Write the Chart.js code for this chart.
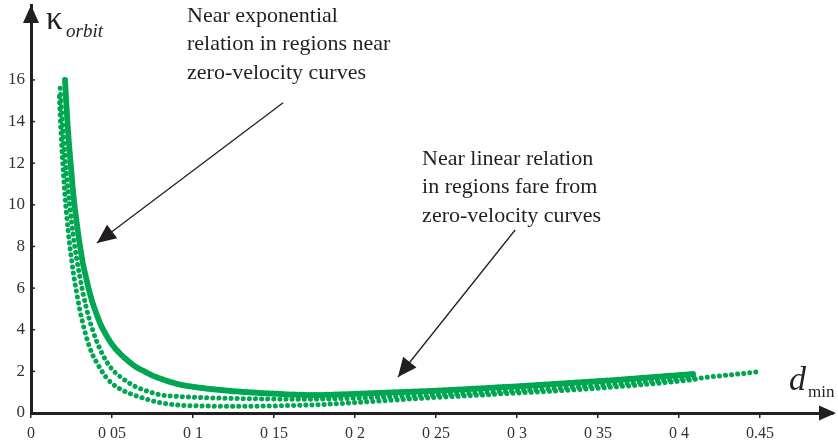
<!DOCTYPE html>
<html>
<head>
<meta charset="utf-8">
<script src="https://cdn.jsdelivr.net/npm/chart.js@4/dist/chart.umd.min.js"></script>
<style>
  body { margin: 0; background: #fff; }
</style>
</head>
<body>
<canvas id="orbitChart" width="838" height="444"></canvas>
<script>
// tick values and their printed labels
const xTickValues = [0, 0.05, 0.1, 0.15, 0.2, 0.25, 0.3, 0.35, 0.4, 0.45];
const xTickLabels = ['0', '0 05', '0 1', '0 15', '0 2', '0 25', '0 3', '0 35', '0 4', '0.45'];
const yTickValues = [0, 2, 4, 6, 8, 10, 12, 14, 16];
const yTickLabels = ['0', '2', '4', '6', '8', '10', '12', '14', '16'];

// upper band
const bandX = [0.021, 0.022, 0.023, 0.024, 0.025, 0.026, 0.027, 0.028, 0.029, 0.030, 0.032, 0.034, 0.036, 0.038, 0.040, 0.043, 0.046, 0.050, 0.055, 0.060, 0.065, 0.070, 0.075, 0.080, 0.090, 0.100, 0.110, 0.120, 0.130, 0.140, 0.150, 0.160, 0.170, 0.180, 0.190, 0.200, 0.210, 0.220, 0.230, 0.240, 0.250, 0.260, 0.270, 0.280, 0.290, 0.300, 0.310, 0.320, 0.330, 0.340, 0.350, 0.360, 0.370, 0.380, 0.390, 0.400, 0.410];
const bandY = [16.0, 14.6, 13.4, 12.4, 11.5, 10.6, 9.9, 9.3, 8.7, 8.15, 7.2, 6.5, 5.85, 5.3, 4.85, 4.25, 3.8, 3.3, 2.85, 2.5, 2.2, 2.0, 1.8, 1.65, 1.4, 1.26, 1.16, 1.08, 1.02, 0.97, 0.93, 0.89, 0.87, 0.87, 0.89, 0.92, 0.95, 0.98, 1.01, 1.04, 1.07, 1.11, 1.15, 1.19, 1.24, 1.28, 1.33, 1.38, 1.43, 1.48, 1.53, 1.58, 1.64, 1.70, 1.76, 1.82, 1.88];

// middle dotted curve
const midX = [0.018, 0.019, 0.020, 0.021, 0.022, 0.023, 0.024, 0.025, 0.026, 0.027, 0.028, 0.030, 0.032, 0.034, 0.036, 0.038, 0.040, 0.043, 0.046, 0.050, 0.055, 0.060, 0.065, 0.070, 0.075, 0.080, 0.090, 0.100, 0.110, 0.120, 0.130, 0.140, 0.150, 0.160, 0.170, 0.180, 0.190, 0.200, 0.210, 0.220, 0.230, 0.240, 0.250, 0.260, 0.270, 0.280, 0.290, 0.300, 0.310, 0.320, 0.330, 0.340, 0.350, 0.360, 0.370, 0.380, 0.390, 0.400, 0.410];
const midY = [15.6, 14.4, 13.3, 12.3, 11.4, 10.6, 9.9, 9.2, 8.6, 8.0, 7.5, 6.6, 5.8, 5.1, 4.5, 4.0, 3.55, 3.0, 2.55, 2.1, 1.75, 1.47, 1.25, 1.1, 0.97, 0.87, 0.8, 0.76, 0.73, 0.71, 0.69, 0.68, 0.67, 0.66, 0.66, 0.67, 0.69, 0.71, 0.74, 0.77, 0.8, 0.83, 0.86, 0.9, 0.94, 0.98, 1.02, 1.06, 1.11, 1.16, 1.21, 1.26, 1.31, 1.37, 1.43, 1.49, 1.56, 1.63, 1.72];

// lowest dotted curve (runs on to 0.45)
const lowX = [0.0175, 0.018, 0.019, 0.020, 0.021, 0.022, 0.023, 0.024, 0.025, 0.026, 0.027, 0.028, 0.030, 0.032, 0.034, 0.036, 0.038, 0.040, 0.043, 0.046, 0.050, 0.055, 0.060, 0.065, 0.070, 0.075, 0.080, 0.085, 0.090, 0.095, 0.100, 0.110, 0.120, 0.130, 0.140, 0.150, 0.160, 0.170, 0.180, 0.190, 0.200, 0.210, 0.220, 0.230, 0.240, 0.250, 0.260, 0.270, 0.280, 0.290, 0.300, 0.310, 0.320, 0.330, 0.340, 0.350, 0.360, 0.370, 0.380, 0.390, 0.400, 0.410, 0.415, 0.420, 0.425, 0.430, 0.435, 0.440, 0.445, 0.450];
const lowY = [15.2, 14.3, 12.8, 11.5, 10.4, 9.5, 8.7, 8.0, 7.4, 6.8, 6.3, 5.85, 5.0, 4.3, 3.7, 3.2, 2.8, 2.5, 2.1, 1.75, 1.42, 1.15, 0.97, 0.82, 0.7, 0.58, 0.49, 0.43, 0.39, 0.36, 0.35, 0.33, 0.32, 0.32, 0.33, 0.34, 0.36, 0.38, 0.41, 0.45, 0.5, 0.55, 0.6, 0.65, 0.7, 0.75, 0.79, 0.83, 0.87, 0.92, 0.96, 1.0, 1.04, 1.09, 1.14, 1.19, 1.25, 1.31, 1.38, 1.45, 1.53, 1.62, 1.7, 1.74, 1.78, 1.82, 1.86, 1.9, 1.95, 2.0];

const green = '#00a651';
const ink = '#231f20';

// annotations: text lines and arrows in data units
const note1 = ['Near exponential', 'relation in regions near', 'zero-velocity curves'];
const note2 = ['Near linear relation', 'in regions fare from', 'zero-velocity curves'];
const note1At = [0.0963, 18.79];
const note2At = [0.2414, 11.92];
const arrow1 = [[0.1556, 14.9], [0.0407, 8.17]];
const arrow2 = [[0.2988, 8.79], [0.2265, 1.73]];

function toPoints(xs, ys) {
  return xs.map((x, i) => ({ x: x, y: ys[i] }));
}

function arrowHead(ctx, x0, y0, x1, y1, len, half) {
  const a = Math.atan2(y1 - y0, x1 - x0);
  ctx.beginPath();
  ctx.moveTo(x1, y1);
  ctx.lineTo(x1 - len * Math.cos(a) + half * Math.sin(a), y1 - len * Math.sin(a) - half * Math.cos(a));
  ctx.lineTo(x1 - len * Math.cos(a) - half * Math.sin(a), y1 - len * Math.sin(a) + half * Math.cos(a));
  ctx.closePath();
  ctx.fill();
}

// axis arrows, titles, y ticks and the two notes
const extras = {
  id: 'extras',
  afterDraw(chart) {
    const ctx = chart.ctx;
    const xs = chart.scales.x, ys = chart.scales.y;
    const area = chart.chartArea;
    ctx.save();
    ctx.fillStyle = ink;
    ctx.strokeStyle = ink;

    // axis arrowheads
    arrowHead(ctx, area.left, area.bottom, area.left, area.top, 18, 8);
    arrowHead(ctx, area.left, area.bottom, area.right + 3, area.bottom, 17, 7.5);

    // small y ticks inside the axis
    ctx.lineWidth = 1.5;
    yTickValues.forEach(v => {
      const py = ys.getPixelForValue(v);
      ctx.beginPath();
      ctx.moveTo(area.left, py);
      ctx.lineTo(area.left + 4, py);
      ctx.stroke();
    });

    // axis titles
    ctx.textBaseline = 'alphabetic';
    ctx.textAlign = 'left';
    ctx.font = '33px "Liberation Serif"';
    ctx.fillText('\u03ba', area.left + 15, 29);
    ctx.font = 'italic 19px "Liberation Serif"';
    ctx.fillText('orbit', area.left + 35, 37);
    ctx.font = 'italic 34px "Liberation Serif"';
    ctx.fillText('d', 789, 390);
    ctx.font = '17px "Liberation Serif"';
    ctx.fillText('min', 808, 397);

    // notes
    ctx.font = '22px "Liberation Serif"';
    [[note1, note1At], [note2, note2At]].forEach(([lines, at]) => {
      const px = xs.getPixelForValue(at[0]);
      const py = ys.getPixelForValue(at[1]);
      lines.forEach((t, i) => ctx.fillText(t, px, py + i * 28.5));
    });

    // note arrows
    ctx.lineWidth = 1.3;
    [arrow1, arrow2].forEach(([from, to]) => {
      const x0 = xs.getPixelForValue(from[0]), y0 = ys.getPixelForValue(from[1]);
      const x1 = xs.getPixelForValue(to[0]), y1 = ys.getPixelForValue(to[1]);
      ctx.beginPath();
      ctx.moveTo(x0, y0);
      ctx.lineTo(x1, y1);
      ctx.stroke();
      arrowHead(ctx, x0, y0, x1, y1, 19, 8.5);
    });
    ctx.restore();
  }
};

const dotted = (width, gap) => ({
  borderColor: green,
  backgroundColor: green,
  borderWidth: width,
  borderDash: [0.1, gap],
  borderCapStyle: 'round',
  pointRadius: 0,
  cubicInterpolationMode: 'monotone',
  fill: false
});

new Chart(document.getElementById('orbitChart'), {
  type: 'line',
  data: {
    datasets: [
      Object.assign({ label: 'band', data: toPoints(bandX, bandY) }, dotted(6, 2.5)),
      Object.assign({ label: 'middle', data: toPoints(midX, midY) }, dotted(5, 6)),
      Object.assign({ label: 'low', data: toPoints(lowX, lowY) }, dotted(5, 6))
    ]
  },
  options: {
    responsive: false,
    animation: false,
    layout: { padding: { left: 0, top: 5, right: 5, bottom: 0 } },
    plugins: { legend: { display: false }, tooltip: { enabled: false } },
    scales: {
      x: {
        type: 'linear',
        min: 0,
        max: 0.495,
        afterFit: s => { s.height = 31; },
        afterBuildTicks: s => { s.ticks = xTickValues.map(v => ({ value: v })); },
        ticks: {
          autoSkip: false,
          maxRotation: 0,
          padding: 6,
          color: '#333',
          font: { family: 'Liberation Serif', size: 16 },
          callback: (v, i) => xTickLabels[i]
        },
        grid: { drawOnChartArea: false, drawTicks: true, tickLength: 5, color: ink, lineWidth: 1.5 },
        border: { display: true, color: ink, width: 3 }
      },
      y: {
        min: 0,
        max: 19.6,
        afterFit: s => { s.width = 31; s.paddingTop = 0; s.paddingBottom = 0; },
        afterBuildTicks: s => { s.ticks = yTickValues.map(v => ({ value: v })); },
        ticks: {
          padding: 6,
          color: '#333',
          font: { family: 'Liberation Serif', size: 17 },
          callback: (v, i) => yTickLabels[i]
        },
        grid: { display: false, drawTicks: false },
        border: { display: true, color: ink, width: 3 }
      }
    }
  },
  plugins: [extras]
});
</script>
</body>
</html>
